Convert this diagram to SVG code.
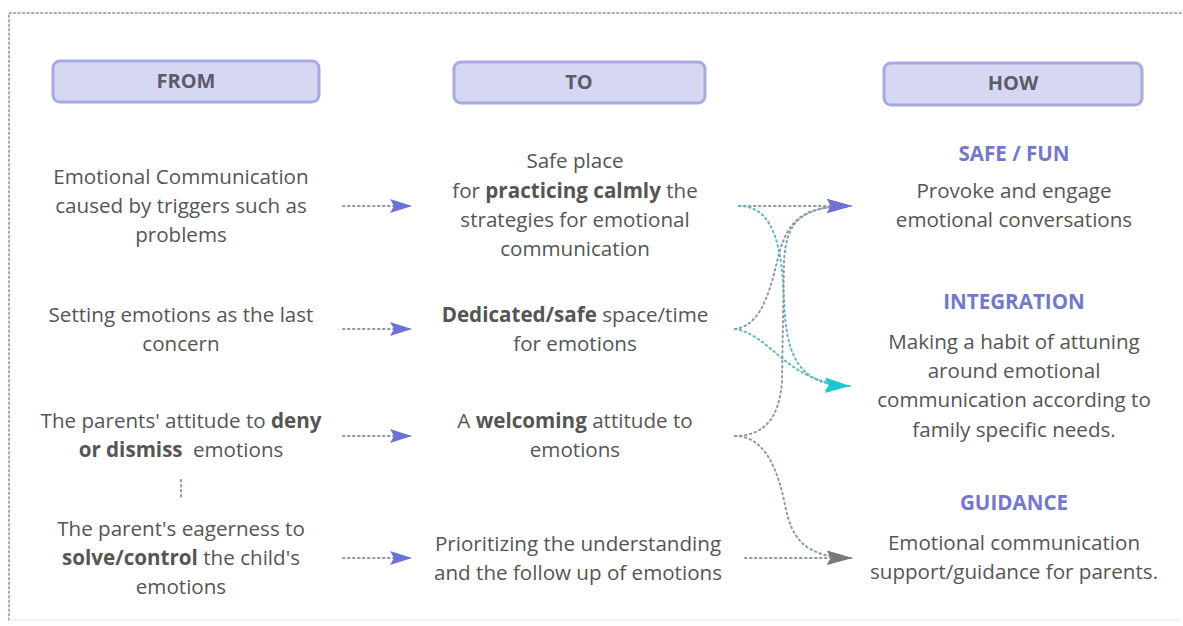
<svg xmlns="http://www.w3.org/2000/svg" width="1183" height="626" viewBox="0 0 1183 626">
<defs>
<style>
text{font-family:"Open Sans","Liberation Sans",sans-serif;font-size:20.6px;fill:#555;text-anchor:middle}
.b{font-weight:bold}
.hd{font-weight:bold;font-size:20px;fill:#5b5b6b}
.ht{font-weight:bold;font-size:20.6px;fill:#7378cc}
.hbox{fill:#d6d7f3;stroke:#a7a9df;stroke-width:3}
.dot{fill:none;stroke:#8a9aab;stroke-width:2;stroke-dasharray:1.5 3.5;stroke-linecap:round}
.teal{stroke:#5fb8c4}
</style>
<marker id="ap" markerWidth="24" markerHeight="16" refX="22" refY="8" orient="auto" markerUnits="userSpaceOnUse"><path d="M0,1 L22,8 L0,15 L4,8 Z" fill="#6e72d6"/></marker>
<marker id="ac" markerWidth="26" markerHeight="16" refX="25" refY="8" orient="auto" markerUnits="userSpaceOnUse"><path d="M0,1 L25,8 L0,15 L4,8 Z" fill="#1ec6d0"/></marker>
<marker id="ag" markerWidth="26" markerHeight="16" refX="25" refY="8" orient="auto" markerUnits="userSpaceOnUse"><path d="M0,1 L25,8 L0,15 L4,8 Z" fill="#7a7a7a"/></marker>
<marker id="ap2" markerWidth="26" markerHeight="16" refX="25" refY="8" orient="auto" markerUnits="userSpaceOnUse"><path d="M0,1 L25,8 L0,15 L4,8 Z" fill="#6e72d6"/></marker>
</defs>
<rect x="0" y="0" width="1183" height="626" fill="#fff"/>
<path d="M9,620 L9,13 L1181,13" fill="none" stroke="#aab" stroke-width="2" stroke-dasharray="1.5 3" stroke-linecap="round"/>
<path d="M9,620 L1181,620" fill="none" stroke="#f1f1f3" stroke-width="2"/>

<g id="hdr-from"><rect class="hbox" x="53" y="61" width="266" height="41" rx="7"/><text class="hd" x="186" y="88">FROM</text></g>
<g id="hdr-to"><rect class="hbox" x="454" y="62" width="251" height="41" rx="7"/><text class="hd" x="579" y="89">TO</text></g>
<g id="hdr-how"><rect class="hbox" x="884" y="63" width="258" height="42" rx="7"/><text class="hd" x="1013" y="90">HOW</text></g>

<g id="from1"><text x="181" y="184">Emotional Communication</text><text x="181" y="213">caused by triggers such as</text><text x="181" y="242">problems</text></g>
<g id="from2"><text x="181" y="322">Setting emotions as the last</text><text x="181" y="351">concern</text></g>
<g id="from3"><text x="181" y="428">The parents' attitude to <tspan class="b">deny</tspan></text><text x="181" y="457"><tspan class="b">or dismiss</tspan> <tspan dx="5">emotions</tspan></text></g>
<g id="from4"><text x="181" y="536">The parent's eagerness to</text><text x="181" y="565"><tspan class="b">solve/control</tspan> the child's</text><text x="181" y="594">emotions</text></g>

<g id="to1"><text x="575" y="168">Safe place</text><text x="575" y="198">for <tspan class="b">practicing calmly</tspan> the</text><text x="575" y="227">strategies for emotional</text><text x="575" y="256">communication</text></g>
<g id="to2"><text x="575" y="322"><tspan class="b">Dedicated/safe</tspan> space/time</text><text x="575" y="351">for emotions</text></g>
<g id="to3"><text x="575" y="428">A <tspan class="b">welcoming</tspan> attitude to</text><text x="575" y="457">emotions</text></g>
<g id="to4"><text x="578" y="551">Prioritizing the understanding</text><text x="578" y="580">and the follow up of emotions</text></g>

<g id="how1"><text class="ht" x="1014" y="161">SAFE / FUN</text><text x="1014" y="198">Provoke and engage</text><text x="1014" y="227">emotional conversations</text></g>
<g id="how2"><text class="ht" x="1014" y="309">INTEGRATION</text><text x="1014" y="349">Making a habit of attuning</text><text x="1014" y="378">around emotional</text><text x="1014" y="407">communication according to</text><text x="1014" y="437">family specific needs.</text></g>
<g id="how3"><text class="ht" x="1014" y="510">GUIDANCE</text><text x="1014" y="550">Emotional communication</text><text x="1014" y="579">support/guidance for parents.</text></g>

<g id="connectors">
<path class="dot" d="M343,206 L412,206" marker-end="url(#ap)"/>
<path class="dot" d="M343,329 L412,329" marker-end="url(#ap)"/>
<path class="dot" d="M343,436 L412,436" marker-end="url(#ap)"/>
<path class="dot" d="M343,558 L412,558" marker-end="url(#ap)"/>
<path class="dot" d="M181,480 L181,497"/>

<path class="dot" d="M739,206 L852,206" marker-end="url(#ap2)"/>
<path class="dot teal" d="M739,206 C775,206 782,250 784,300 C786,350 795,386 850,386" marker-end="url(#ac)"/>
<path class="dot" d="M735,329 C765,325 772,280 780,250 C790,218 805,206 852,206" marker-end="url(#ap2)"/>
<path class="dot teal" d="M735,329 C772,335 785,382 850,386" marker-end="url(#ac)"/>
<path class="dot" d="M735,436 C762,436 780,420 782,380 L784,262 C786,222 800,206 852,206" marker-end="url(#ap2)"/>
<path class="dot" d="M735,436 C765,436 778,470 785,505 C792,540 805,557 852,558" marker-end="url(#ag)"/>
<path class="dot" d="M745,558 L852,558" marker-end="url(#ag)"/>
</g>
</svg>
